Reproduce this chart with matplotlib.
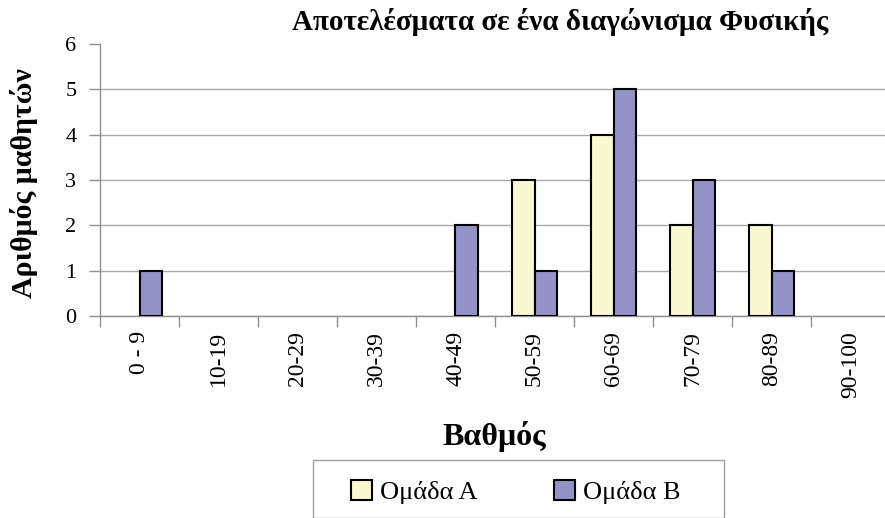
import numpy as np
import matplotlib
matplotlib.use("Agg")
from matplotlib import pyplot as plt
from matplotlib.patches import Rectangle, Patch

plt.rcParams['font.family'] = ['Liberation Serif', 'DejaVu Serif']

categories = ["0 - 9", "10-19", "20-29", "30-39", "40-49",
              "50-59", "60-69", "70-79", "80-89", "90-100"]
group_a = [0, 0, 0, 0, 0, 3, 4, 2, 2, 0]
group_b = [1, 0, 0, 0, 2, 1, 5, 3, 1, 0]
labels = ["Ομάδα Α", "Ομάδα Β"]
colors = ["#F8F8D2", "#9393C8"]
yticks = [0, 1, 2, 3, 4, 5, 6]

W, H = 885, 518
fig = plt.figure(figsize=(W / 100, H / 100), dpi=100)
ax = fig.add_axes([100 / W, 202 / H, 790 / W, 272 / H])

x = np.arange(len(categories))
bw = 0.29


def edges(vals):
    # no outline for empty bars
    return ["black" if v > 0 else "none" for v in vals]


ax.bar(x - bw / 2, group_a, bw, color=colors[0], edgecolor=edges(group_a),
       linewidth=1.5, zorder=3)
ax.bar(x + bw / 2, group_b, bw, color=colors[1], edgecolor=edges(group_b),
       linewidth=1.5, zorder=3)

ax.set_xlim(-0.5, len(categories) - 0.5)
ax.set_ylim(0, 6)
ax.set_yticks(yticks)
ax.set_yticklabels([str(v) for v in yticks], fontsize=16)
ax.set_xticks(x)
ax.set_xticklabels(categories, rotation=90, fontsize=17, va="top")
ax.set_xticks(np.arange(len(categories) + 1) - 0.5, minor=True)
ax.tick_params(axis="x", which="major", length=0, pad=11)
ax.tick_params(axis="x", which="minor", length=8, color="#909090", width=1)
ax.tick_params(axis="y", length=8, color="#909090", width=1, pad=9)

ax.grid(axis="y", color="#a8a8a8", linewidth=1, zorder=0)
ax.get_ygridlines()[-1].set_visible(False)
for s in ["top", "right"]:
    ax.spines[s].set_visible(False)
for s in ["left", "bottom"]:
    ax.spines[s].set_color("#909090")
    ax.spines[s].set_linewidth(1)

fig.text(560 / W, 1 - 22 / H, "Αποτελέσματα σε ένα διαγώνισμα Φυσικής",
         ha="center", va="center", fontsize=21, fontweight="bold")
fig.text(24 / W, 1 - 183 / H, "Αριθμός μαθητών", rotation=90,
         ha="center", va="center", fontsize=21.5, fontweight="bold")
fig.text(494 / W, 1 - 437 / H, "Βαθμός",
         ha="center", va="center", fontsize=23, fontweight="bold")

# legend box
fig.patches.append(Rectangle((313 / W, 0), 411 / W, 58 / H, transform=fig.transFigure,
                             facecolor="white", edgecolor="#a0a0a0", linewidth=1))
handles = [Patch(facecolor=c, edgecolor="black", linewidth=1.5) for c in colors]
fig.legend(handles, labels, loc="center", bbox_to_anchor=(516 / W, 1 - 492 / H), ncol=2,
           frameon=False, fontsize=19, handlelength=0.8, handleheight=0.8,
           handletextpad=0.3, columnspacing=2.9)

fig.savefig("out.png", dpi=100)
